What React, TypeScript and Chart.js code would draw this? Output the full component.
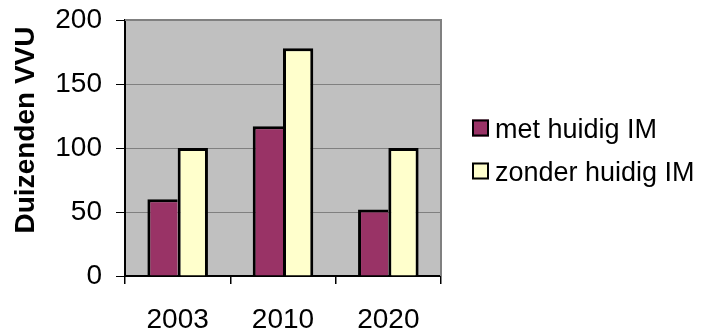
import React, { useEffect, useRef } from "react";
import { Chart, registerables } from "chart.js";

Chart.register(...registerables);

const categories = ["2003", "2010", "2020"];
const seriesNames = ["met huidig IM", "zonder huidig IM"];
const metHuidig = [60, 117, 52];
const zonderHuidig = [100, 178, 100];
const yAxisTitle = "Duizenden VVU";
const yMin = 0;
const yMax = 200;
const yStep = 50;

const COLORS = ["#993366", "#FFFFCC"];
const FONT = "'Liberation Sans', Arial, sans-serif";

const decorPlugin = {
  id: "decor",
  beforeDraw(chart: any) {
    const { ctx, chartArea } = chart;
    ctx.save();
    ctx.fillStyle = "#C0C0C0";
    ctx.fillRect(chartArea.left, chartArea.top, chartArea.right - chartArea.left, chartArea.bottom - chartArea.top);
    ctx.restore();
  },
  afterDraw(chart: any) {
    const { ctx, chartArea } = chart;
    ctx.save();
    ctx.strokeStyle = "#808080";
    ctx.lineWidth = 2;
    ctx.beginPath();
    ctx.moveTo(chartArea.left, chartArea.top);
    ctx.lineTo(chartArea.right, chartArea.top);
    ctx.lineTo(chartArea.right, chartArea.bottom);
    ctx.stroke();

    ctx.fillStyle = "#000";
    ctx.font = `bold 28px ${FONT}`;
    ctx.textAlign = "center";
    ctx.textBaseline = "middle";
    ctx.translate(26, 130);
    ctx.rotate(-Math.PI / 2);
    ctx.fillText(yAxisTitle, 0, 0);
    ctx.restore();

    ctx.save();
    const items = chart.data.datasets;
    const boxX = 472;
    const ys = [128, 171];
    items.forEach((ds: any, i: number) => {
      const y = ys[i];
      ctx.fillStyle = ds.backgroundColor;
      ctx.fillRect(boxX, y - 8.5, 17, 17);
      ctx.strokeStyle = "#000";
      ctx.lineWidth = 2;
      ctx.strokeRect(boxX + 1, y - 7.5, 15, 15);
      ctx.fillStyle = "#000";
      ctx.font = `27px ${FONT}`;
      ctx.textAlign = "left";
      ctx.textBaseline = "middle";
      ctx.fillText(ds.label, 495, y + 3);
    });
    ctx.restore();
  },
};

export default function App() {
  const ref = useRef<HTMLCanvasElement | null>(null);
  useEffect(() => {
    if (!ref.current) return;
    const chart = new Chart(ref.current, {
      type: "bar",
      data: {
        labels: categories,
        datasets: [
          {
            label: seriesNames[0],
            data: metHuidig,
            backgroundColor: COLORS[0],
            borderColor: "#000",
            borderWidth: { top: 3, left: 3, right: 0, bottom: 0 },
            borderSkipped: false,
          },
          {
            label: seriesNames[1],
            data: zonderHuidig,
            backgroundColor: COLORS[1],
            borderColor: "#000",
            borderWidth: { top: 3, left: 3, right: 3, bottom: 0 },
            borderSkipped: false,
          },
        ],
      },
      options: {
        responsive: false,
        animation: false,
        layout: { padding: { left: 0, top: 20, right: 265, bottom: 0 } },
        plugins: {
          legend: { display: false },
          tooltip: { enabled: false },
          title: { display: false },
        },
        datasets: {
          bar: { categoryPercentage: 0.575, barPercentage: 1 },
        },
        scales: {
          x: {
            grid: {
              offset: true,
              drawOnChartArea: false,
              drawTicks: true,
              tickLength: 8,
              tickColor: "#000",
              lineWidth: 1.5,
            },
            border: { color: "#000", width: 2 },
            ticks: {
              color: "#000",
              font: { family: FONT, size: 28 },
              padding: 19,
              maxRotation: 0,
            },
            afterFit(scale: any) {
              scale.height = 57;
              scale.paddingLeft = 0;
              scale.paddingRight = 0;
            },
          },
          y: {
            min: yMin,
            max: yMax,
            grid: {
              color: "#808080",
              lineWidth: 1,
              tickLength: 9,
              tickColor: "#000",
            },
            border: { color: "#000", width: 2 },
            ticks: {
              stepSize: yStep,
              color: "#000",
              font: { family: FONT, size: 28 },
              padding: 14,
            },
            afterFit(scale: any) {
              scale.width = 125;
              scale.paddingTop = 0;
              scale.paddingBottom = 0;
            },
          },
        },
      },
      plugins: [decorPlugin],
    });
    return () => chart.destroy();
  }, []);
  return (
    <div style={{ position: "fixed", left: 0, top: 0, width: 706, height: 333, background: "#fff" }}>
      <canvas ref={ref} width={706} height={333} style={{ width: 706, height: 333 }} />
    </div>
  );
}
